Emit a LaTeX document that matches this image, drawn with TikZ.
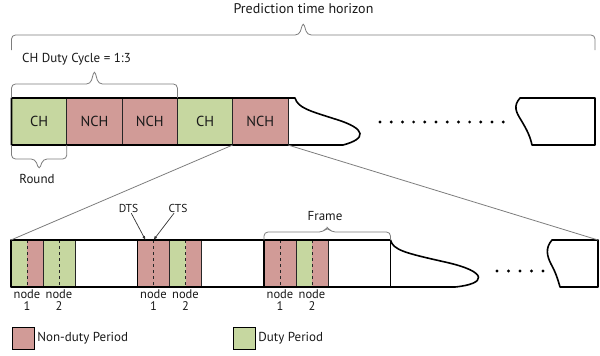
\documentclass[tikz,border=0pt]{standalone}
\usepackage{fontspec}
\setmainfont{PT Sans}
\usetikzlibrary{arrows.meta, positioning, calc}
\definecolor{dutygreen}{RGB}{198,215,160}
\definecolor{offpink}{RGB}{209,155,151}
\definecolor{wire}{RGB}{125,125,125}
\tikzstyle{cell} = [draw=black!85, line width=0.8pt, minimum width=55.3pt, minimum height=47pt, outer sep=0pt, inner sep=0pt, text=black!90, font=\fontsize{14.5}{16}\selectfont]
\tikzstyle{slot} = [minimum width=16pt, minimum height=47pt, outer sep=0pt, inner sep=0pt]
\tikzstyle{rowline} = [line width=1.6pt, line join=round]
\tikzstyle{slotedge} = [draw=black!85, line width=0.8pt]
\tikzstyle{zoomline} = [draw=wire, line width=0.8pt]
\tikzstyle{spanline} = [draw=wire, line width=0.8pt, rounded corners=4pt]
\tikzstyle{pointer} = [->, draw=black!80, line width=0.7pt, shorten <=1pt]
\tikzstyle{txt} = [inner sep=0pt, text=black!90, font=\fontsize{13}{15}\selectfont]
\tikzstyle{small} = [inner sep=0pt, text=black!90, font=\fontsize{11.5}{12}\selectfont]
\tikzstyle{tag} = [inner sep=0pt, text=black!90, align=center, font=\fontsize{12.5}{12}\selectfont]
\tikzstyle{keybox} = [draw, line width=1.4pt, minimum size=22pt, inner sep=0pt]
\newcommand{\spanbrace}[4]{%
  \draw[spanline] let \p1=#1, \p2=#2, \p3=($#1!0.5!#2$) in
    (\p1) -- ({\x1},{\y1+#3}) -- ({\x3-4pt},{\y1+#3}) -- ({\x3},{\y1+#3+#4})
    -- ({\x3+4pt},{\y1+#3}) -- ({\x2},{\y1+#3}) -- (\p2);}

\begin{document}
\begin{tikzpicture}[x=1pt, y=-1pt, >={Latex[length=4pt, width=3pt]}]
    \useasboundingbox (0,0) rectangle (600,356);

    \node [cell, fill=dutygreen] (ch1) at (39.15,121.5) {CH};
    \node [cell, fill=offpink, right=0pt of ch1] (nch1) {NCH};
    \node [cell, fill=offpink, right=0pt of nch1] (nch2) {NCH};
    \node [cell, fill=dutygreen, right=0pt of nch2] (ch2) {CH};
    \node [cell, fill=offpink, right=0pt of ch2] (nch3) {NCH};
    \draw [rowline] (ch1.north west) -- (295,98) .. controls (298,108) and (310,111) .. (335,119)
        .. controls (368,129) and (366,139) .. (343,145) -- (ch1.south west) -- cycle;
    \foreach \k in {0,...,11} \fill (380+\k*11.2,122) circle (1.6pt);
    \coordinate (farT) at (595,98);
    \draw [rowline] (520,98) -- (farT) -- (595,145) -- (532,145) .. controls (530,136) and (527,130) .. (521,120)
        .. controls (516,112) and (513,106) .. cycle;

    \foreach \x/\ca/\cb/\cc/\cd [count=\i] in {11/dutygreen/offpink/dutygreen/dutygreen,
        137.5/offpink/offpink/dutygreen/offpink, 264/offpink/offpink/dutygreen/offpink} {
        \node [slot, fill=\ca] (f\i a) at (\x+8,263.5) {};
        \node [slot, fill=\cb, right=0pt of f\i a] (f\i b) {};
        \node [slot, fill=\cc, right=0pt of f\i b] (f\i c) {};
        \node [slot, fill=\cd, right=0pt of f\i c] (f\i d) {};
        \draw [slotedge, dashed] (f\i a.north east) -- (f\i a.south east);
        \draw [slotedge, dashed] (f\i c.north east) -- (f\i c.south east);
        \draw [slotedge] (f\i b.north east) -- (f\i b.south east);
        \draw [slotedge] (f\i d.north east) -- (f\i d.south east);
        \draw [rowline] (f\i a.north west) -- (f\i a.south west);
        \node [tag, below=3pt of f\i a.south east] {node\\1};
        \node [tag, below=3pt of f\i c.south east] {node\\2};
    }
    \coordinate (fend) at ($(f3a.north west)+(126.5,0)$);
    \draw [rowline] (f1a.north west) -- (fend) .. controls (393,250) and (405,253) .. (445,262)
        .. controls (490,272) and (486,284) .. (455,287) -- (f1a.south west) -- cycle;
    \draw [rowline] (fend) -- (fend |- f1a.south);
    \foreach \k in {0,...,4} \fill (497+\k*11.5,271) circle (1.6pt);
    \coordinate (farB) at (598,240);
    \draw [rowline] (552,240) -- (farB) -- (598,287) -- (560,287) .. controls (558,280) and (556,273) .. (551,264)
        .. controls (547,256) and (545,248) .. cycle;

    \draw [zoomline] (nch3.south west) -- (f1a.north west);
    \draw [zoomline] (nch3.south east) -- (farB);

    \node [txt, font=\fontsize{14}{16}\selectfont] (horizon) at (303.5,9) {Prediction time horizon};
    \spanbrace{(11.5,50)}{(farT |- 0,50)}{15pt}{13pt}
    \node [txt, anchor=base west] (dutycycle) at (22,62) {CH Duty Cycle = 1:3};
    \spanbrace{(ch1.north west)}{(ch2.north west)}{14pt}{14pt}
    \spanbrace{(ch1.south west)}{(ch1.south east)}{-14pt}{-11pt}
    \node [txt, anchor=base] (round) at (37,183) {Round};
    \spanbrace{(f3a.north west)}{(fend)}{8pt}{5pt}
    \node [txt, anchor=base] (frame) at (325,220) {Frame};

    \node [small, anchor=base] (dts) at (128.5,212) {DTS};
    \node [small, anchor=base] (cts) at (178,212) {CTS};
    \draw [pointer] (dts) -- (f2a.north);
    \draw [pointer] (cts) -- (f2b.north west);

    \node [keybox, fill=offpink] (keyoff) at (23.5,338.5) {};
    \node [txt, right=2pt of keyoff] {Non-duty Period};
    \node [keybox, fill=dutygreen] (keyon) at (244.5,338.5) {};
    \node [txt, right=2pt of keyon] {Duty Period};
\end{tikzpicture}
\end{document}
